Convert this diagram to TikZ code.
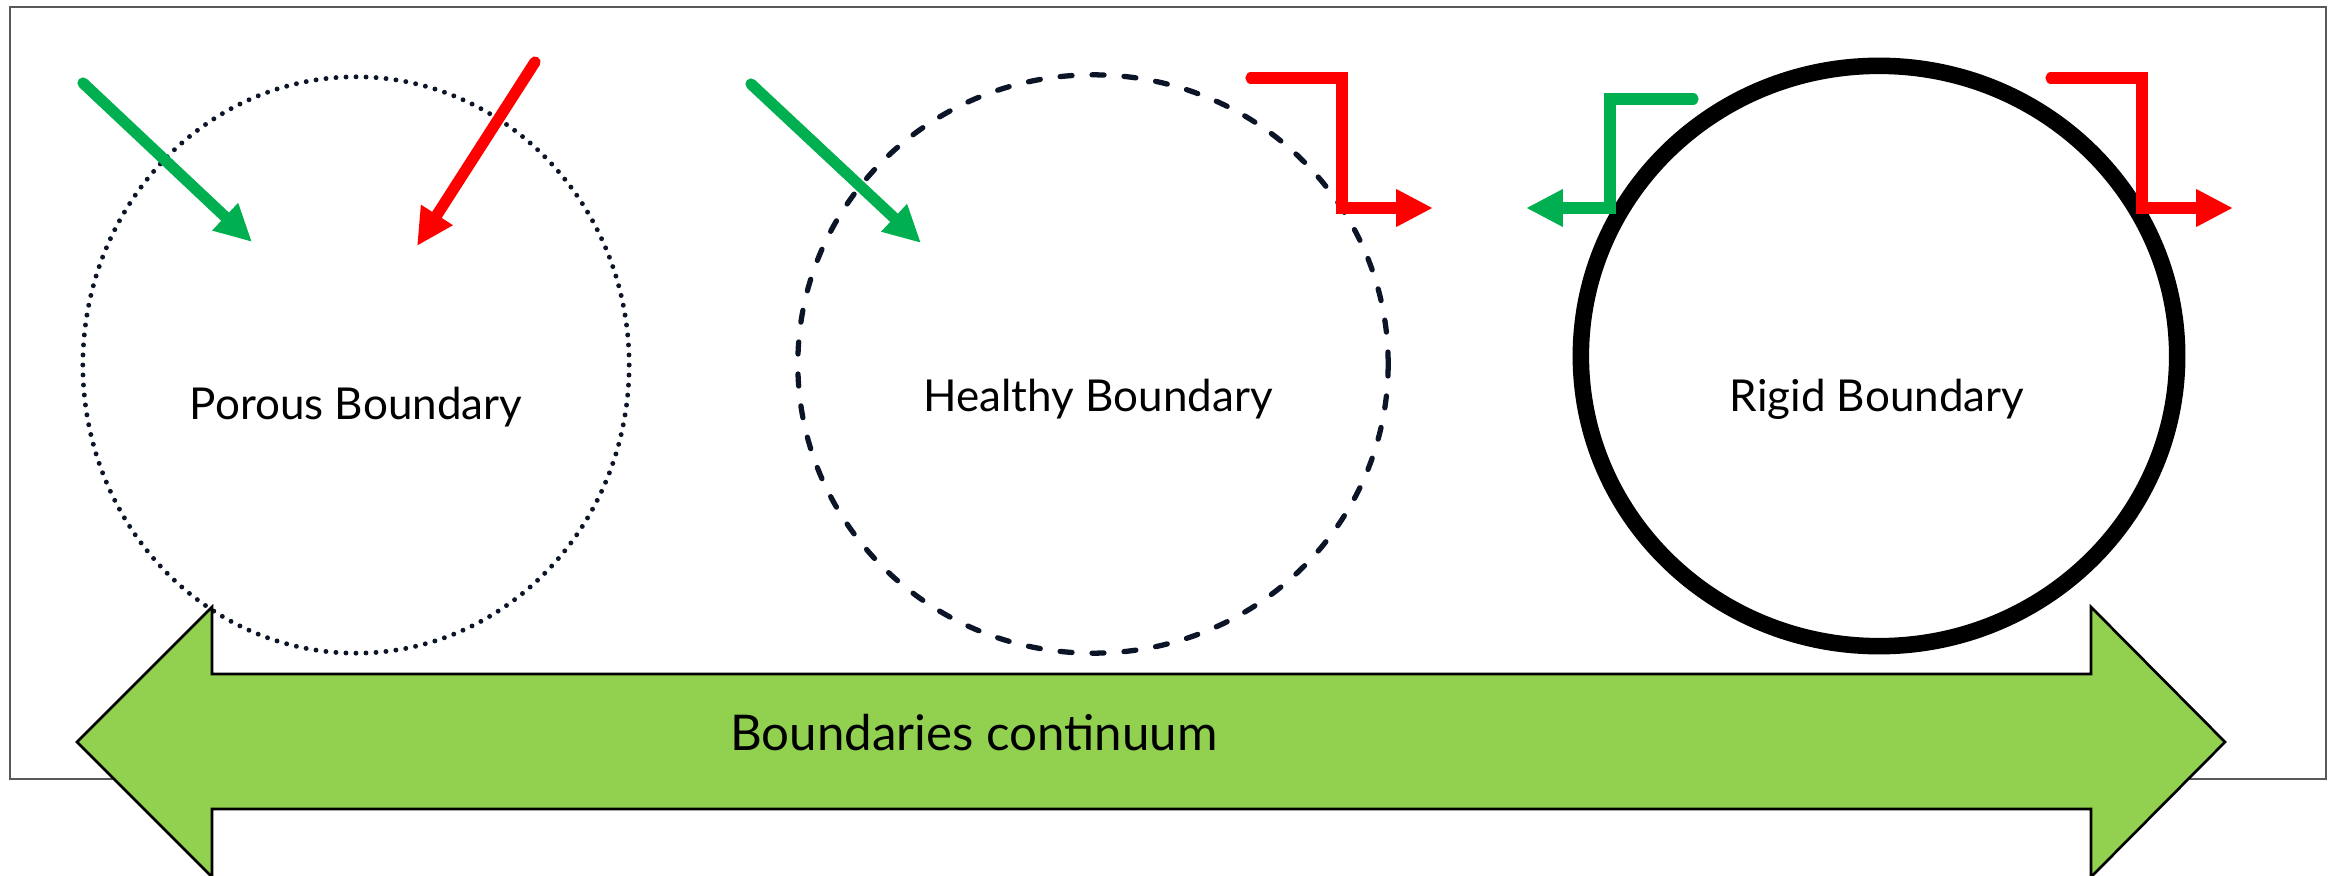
\documentclass[tikz,border=0pt]{standalone}
\usepackage{fontspec}
\setmainfont{Lato}
\usetikzlibrary{arrows.meta,shapes.geometric}
\definecolor{arrowgreen}{HTML}{00B050}
\definecolor{arrowred}{HTML}{FF0000}
\definecolor{bandgreen}{HTML}{92D050}
\definecolor{rimblue}{HTML}{0C1428}
\definecolor{framegray}{HTML}{595959}

\begin{document}
\begin{tikzpicture}[
            x=0.01cm, y=-0.01cm,
            rim/.style={
                ellipse,
                inner sep=0pt,
                outer sep=0pt,
            },
            porous/.style={
                rim,
                draw=rimblue,
                line width=1.4pt,
                line cap=round,
                dash pattern=on 0pt off 2.85pt,
                minimum width=5.46cm,
                minimum height=5.76cm
            },
            healthy/.style={
                rim,
                draw=rimblue,
                line width=1.5pt,
                line cap=round,
                dash pattern=on 3.4pt off 5.7pt,
                minimum width=5.9cm,
                minimum height=5.78cm
            },
            rigid/.style={
                rim,
                draw=black,
                line width=4.7pt,
                minimum width=5.96cm,
                minimum height=5.8cm
            },
            bndtext/.style={
                anchor=base,
                inner sep=0pt,
                font=\fontsize{12.5}{15}\selectfont
            },
            bandtext/.style={
                anchor=base,
                inner sep=0pt,
                font=\fontsize{14}{17}\selectfont
            },
            flowarrow/.style={
                line width=3.2pt,
                line cap=round,
                line join=miter,
                -{Triangle[length=10.5pt,width=10pt]}
            },
            frame/.style={draw=framegray, line width=0.45pt},
            band/.style={fill=bandgreen, draw=black, line width=0.75pt, line join=miter}
        ]

        \useasboundingbox (0,0) rectangle (2343,876);
        \fill[white] (0,0) rectangle (2343,876);

        % Outer frame
        \draw[frame] (10,7) rectangle (2326,779);

        % Boundary circles
        \node[porous] (porous) at (356,365) {};
        \node[healthy] (healthy) at (1093,364) {};
        \node[rigid] (rigid) at (1879,356) {};

        % Circle texts
        \node[bndtext] (tporous) at (356,419) {Porous Boundary};
        \node[bndtext] (thealthy) at (1098,411) {Healthy Boundary};
        \node[bndtext] (trigid) at (1877,411) {Rigid Boundary};

        % Arrow end points
        \coordinate (g1a) at (83,83);
        \coordinate (g1b) at (252,242);
        \coordinate (r1a) at (535,62);
        \coordinate (r1b) at (417,246);
        \coordinate (g2a) at (751,84);
        \coordinate (g2b) at (921,243);
        \coordinate (r2a) at (1251,78);
        \coordinate (r2b) at (1342,208);
        \coordinate (r2c) at (1433,208);
        \coordinate (g3a) at (1693,99);
        \coordinate (g3b) at (1610,208);
        \coordinate (g3c) at (1526,208);
        \coordinate (r3a) at (2051,78);
        \coordinate (r3b) at (2142,208);
        \coordinate (r3c) at (2233,208);

        % Crossing arrows
        \draw[flowarrow, arrowgreen] (g1a) -- (g1b);
        \draw[flowarrow, arrowred] (r1a) -- (r1b);
        \draw[flowarrow, arrowgreen] (g2a) -- (g2b);
        \draw[flowarrow, arrowred] (r2a) -| (r2b) -- (r2c);
        \draw[flowarrow, arrowgreen] (g3a) -| (g3b) -- (g3c);
        \draw[flowarrow, arrowred] (r3a) -| (r3b) -- (r3c);

        % Continuum arrow
        \draw[band] (77,742) -- (212,607) -- (212,674) -- (2091,674) -- (2091,607)
            -- (2225,742) -- (2091,877) -- (2091,809) -- (212,809) -- (212,877) -- cycle;
        \node[bandtext] (tband) at (974,750) {Boundaries continuum};

        \end{tikzpicture}
\end{document}
